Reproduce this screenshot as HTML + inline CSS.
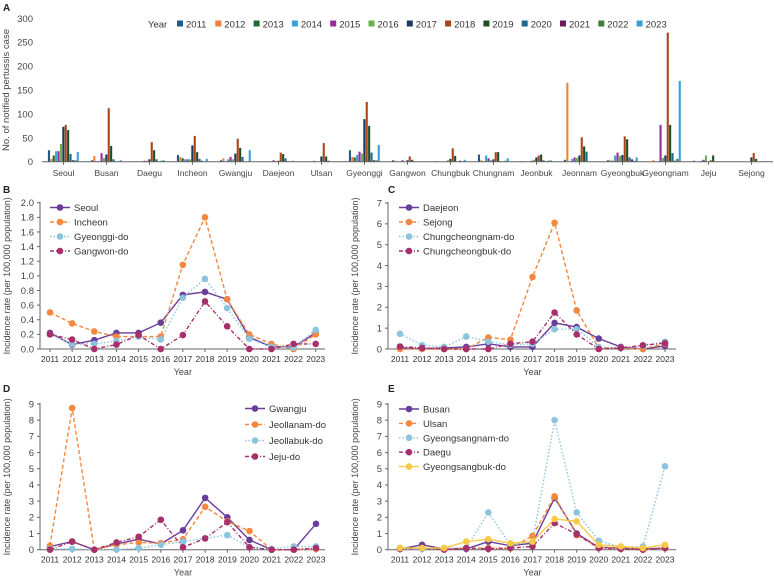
<!DOCTYPE html>
<html><head><meta charset="utf-8"><style>
html,body{margin:0;padding:0;background:#fff;}
svg{display:block;font-family:"Liberation Sans",sans-serif;}
</style></head><body>
<svg id="fig" width="774" height="579" viewBox="0 0 774 579" xmlns="http://www.w3.org/2000/svg"></svg>
<script>
const years=['2011','2012','2013','2014','2015','2016','2017','2018','2019','2020','2021','2022','2023'];
const yearColors=['#1d5c8a','#f07f3c','#1e6b34','#3aa0d8','#9b2b9b','#6ab04c','#1b3a5c','#a8461a','#1f4d2a','#1e6a8f','#6a1b5e','#3e7e3a','#3b9fd6'];
const regions=['Seoul','Busan','Daegu','Incheon','Gwangju','Daejeon','Ulsan','Gyeonggi','Gangwon','Chungbuk','Chungnam','Jeonbuk','Jeonnam','Gyeongbuk','Gyeongnam','Jeju','Sejong'];
const casesSeoul=[24,6,13,22,22,37,73,77,66,16,3,3,20];
const casesBusan=[3,12,1,1,18,8,15,112,33,5,0,0,3];
const casesDaegu=[0,0,0,0,2,2,5,41,24,5,0,2,3];
const casesIncheon=[14,10,7,5,5,5,34,54,20,6,2,0,6];
const casesGwangju=[3,7,0,5,10,5,17,48,29,10,0,0,24];
const casesDaejeon=[0,0,0,0,3,1,2,19,16,7,1,0,2];
const casesUlsan=[0,0,0,2,0,0,11,39,11,2,0,0,0];
const casesGyeonggi=[24,10,9,14,21,17,89,125,75,19,3,3,35];
const casesGangwon=[3,2,0,0,3,0,3,11,4,1,0,0,0];
const casesChungbuk=[1,0,0,0,0,3,6,28,12,0,2,1,4];
const casesChungnam=[15,3,0,13,7,3,5,20,20,1,0,2,7];
const casesJeonbuk=[1,0,0,0,2,4,9,13,15,3,1,2,3];
const casesJeonnam=[4,165,0,6,9,8,13,51,32,21,0,0,0];
const casesGyeongbuk=[3,3,2,13,19,12,14,53,47,9,5,2,9];
const casesGyeongnam=[0,3,0,0,77,8,13,270,77,18,2,6,169];
const casesJeju=[2,0,0,2,4,13,0,3,13,0,0,0,0];
const casesSejong=[0,0,0,0,0,0,9,18,6,0,0,0,1];
const casesAll=[casesSeoul,casesBusan,casesDaegu,casesIncheon,casesGwangju,casesDaejeon,casesUlsan,casesGyeonggi,casesGangwon,casesChungbuk,casesChungnam,casesJeonbuk,casesJeonnam,casesGyeongbuk,casesGyeongnam,casesJeju,casesSejong];
const ticksA=[0,50,100,150,200,250,300];

const bNames=['Seoul','Incheon','Gyeonggi-do','Gangwon-do'];
const bSeoul=[.22,.06,.12,.22,.22,.36,.74,.78,.68,.16,.03,.03,.22];
const bIncheon=[.50,.35,.24,.17,.17,.17,1.15,1.80,.68,.20,.07,0,.20];
const bGyeonggi=[.20,.07,.07,.11,.17,.13,.70,.96,.56,.14,.03,.02,.26];
const bGangwon=[.20,.13,0,.06,.19,0,.19,.65,.31,0,0,.07,.07];
const ticksB=[0,.2,.4,.6,.8,1.0,1.2,1.4,1.6,1.8,2.0];

const cNames=['Daejeon','Sejong','Chungcheongnam-do','Chungcheongbuk-do'];
const cDaejeon=[.05,.02,.05,.1,.25,.1,.1,1.25,1.05,.5,.1,0,.15];
const cSejong=[0,0,0,0,.55,.45,3.45,6.05,1.85,.05,.05,0,.25];
const cChungnam=[.73,.18,.1,.6,.35,.2,.25,.95,.95,.1,.05,.15,.35];
const cChungbuk=[.12,.05,0,0,0,.25,.35,1.75,.7,0,.05,.18,.28];
const ticksC=[0,1,2,3,4,5,6,7];

const dNames=['Gwangju','Jeollanam-do','Jeollabuk-do','Jeju-do'];
const dGwangju=[.2,.5,0,.35,.65,.35,1.2,3.2,2.0,.6,0,0,1.6];
const dJeollanam=[.25,8.75,0,.3,.45,.4,.65,2.65,1.75,1.15,0,0,.05];
const dJeollabuk=[.05,.05,0,0,.1,.3,.5,.7,.9,.15,.05,.2,.2];
const dJeju=[0,.5,0,.45,.8,1.85,.15,.7,1.7,.15,0,0,.1];
const ticksD=[0,1,2,3,4,5,6,7,8,9];

const eNames=['Busan','Ulsan','Gyeongsangnam-do','Daegu','Gyeongsangbuk-do'];
const eBusan=[.05,.3,.05,.05,.5,.25,.4,3.2,1.0,.15,.1,.05,.1];
const eUlsan=[.1,.1,.05,.1,.1,.1,.85,3.3,.9,.15,.1,0,.1];
const eGyeongnam=[.05,.05,.1,.1,2.3,.3,.5,8.0,2.3,.55,.15,.2,5.15];
const eDaegu=[.05,.1,0,.1,.05,.1,.2,1.65,.95,.1,.05,0,.1];
const eGyeongbuk=[.1,.1,.1,.5,.65,.4,.5,1.9,1.75,.3,.2,.1,.3];

const svg=document.getElementById('fig');
const NS='http://www.w3.org/2000/svg';
function mk(tag,attrs,parent,text){const e=document.createElementNS(NS,tag);for(const k in attrs)e.setAttribute(k,attrs[k]);if(text!==undefined)e.textContent=text;(parent||svg).appendChild(e);return e;}

[['A',3,11],['B',3,193],['C',388,193],['D',3,392],['E',388,392]].forEach(p=>{
  const t=mk('text',{x:p[1],y:p[2],'font-size':10,'font-weight':'bold',fill:'#222'},svg,p[0]);
  
  
});

(function(){
  const g=mk('g',{});
  
  
  const x0=42,x1=773,yb=161.7,yt=18.3,max=300;
  const y=v=>yb-(v/max)*(yb-yt);
  const cw=(x1-x0)/regions.length;
  ticksA.forEach(t=>{
    const l=mk('text',{x:33,y:y(t)+3.5,'font-size':9.5,'text-anchor':'end',fill:'#444'},g,String(t));
    
    
  });
  const yt2=mk('text',{transform:'translate(9,'+((yb+yt)/2)+') rotate(-90)','font-size':9.5,'text-anchor':'middle',fill:'#444'},g,'No. of notified pertussis case');
  
  
  const bw=2.4;
  regions.forEach((r,i)=>{
    const cx=x0+cw*(i+0.5);
    casesAll[i].forEach((v,j)=>{
      const bx=cx+(j-6.5)*bw;
      const b=mk('rect',{x:bx,y:y(v),width:bw-0.3,height:Math.max(0,yb-y(v)),fill:yearColors[j]},g);
      
      
    });
    mk('line',{x1:cx,x2:cx,y1:yb,y2:yb+3,stroke:'#666','stroke-width':1},g);
    const l=mk('text',{x:cx,y:176,'font-size':8.5,'text-anchor':'middle',fill:'#444'},g,r);
    
    
  });
  const ax=mk('line',{x1:x0,x2:x1,y1:yb,y2:yb,stroke:'#666','stroke-width':1},g);
  
  
  const lg=mk('g',{},g);
  
  
  mk('text',{x:148,y:27.5,'font-size':9.5,fill:'#333'},lg,'Year');
  years.forEach((yr,j)=>{
    const lx=177+j*38.3;
    const e=mk('g',{},lg);
    
    
    mk('rect',{x:lx,y:20.5,width:6,height:6,fill:yearColors[j]},e);
    mk('text',{x:lx+9,y:27.5,'font-size':9.5,fill:'#333'},e,yr);
  });
})();

const styles=[
  {c:'#6a3d9a',d:''},
  {c:'#f5873f',d:'4,2.5'},
  {c:'#8cc4de',d:'1.5,2'},
  {c:'#a8306a',d:'4,2,1,2'},
  {c:'#f7c948',d:''}
];
function linePanel(o){
  const g=mk('g',{});
  
  
  const {ax,x2011,x2023,y0,yTop,max,ticks,axEnd}=o;
  const X=i=>x2011+i*(x2023-x2011)/12;
  const Y=v=>y0-(v/max)*(y0-yTop);
  mk('line',{x1:ax,x2:ax,y1:yTop-1,y2:y0,stroke:'#666'},g);
  mk('line',{x1:ax,x2:axEnd,y1:y0,y2:y0,stroke:'#666'},g);
  ticks.forEach(t=>{
    mk('line',{x1:ax-3,x2:ax,y1:Y(t),y2:Y(t),stroke:'#666'},g);
    const l=mk('text',{x:ax-6,y:Y(t)+3.3,'font-size':9.5,'text-anchor':'end',fill:'#444'},g,o.fmt(t));
    
    
  });
  years.forEach((yr,i)=>{
    mk('line',{x1:X(i),x2:X(i),y1:y0,y2:y0+3,stroke:'#666'},g);
    const l=mk('text',{x:X(i),y:y0+13,'font-size':8.5,'text-anchor':'middle',fill:'#333'},g,yr);
    
    
  });
  const xt=mk('text',{x:(x2011+x2023)/2,y:y0+26,'font-size':9,'text-anchor':'middle',fill:'#444'},g,'Year');
  
  
  const yt=mk('text',{transform:'translate('+(ax-30)+','+((y0+yTop)/2)+') rotate(-90)','font-size':9,'text-anchor':'middle',fill:'#444'},g,'Incidence rate (per 100,000 population)');
  
  
  o.series.forEach((s,k)=>{
    const st=styles[o.styleIdx[k]];
    const sg=mk('g',{},g);
    
    
    const pts=s.map((v,i)=>X(i).toFixed(1)+','+Y(v).toFixed(1)).join(' ');
    mk('polyline',{points:pts,fill:'none',stroke:st.c,'stroke-width':1.4,'stroke-dasharray':st.d},sg);
    s.forEach((v,i)=>{
      const p=mk('circle',{cx:X(i),cy:Y(v),r:3.3,fill:st.c},sg);
      
      
    });
    const ly=o.legY+k*o.legStep;
    const le=mk('g',{},g);
    
    
    mk('line',{x1:o.legX,x2:o.legX+20,y1:ly,y2:ly,stroke:st.c,'stroke-width':1.4,'stroke-dasharray':st.d},le);
    mk('circle',{cx:o.legX+10,cy:ly,r:3.3,fill:st.c},le);
    mk('text',{x:o.legX+24,y:ly+3.5,'font-size':9.5,fill:'#333'},le,o.names[k]);
  });
}
linePanel({name:'panel-b-line-chart',ax:40,x2011:50,x2023:315.7,y0:349,yTop:202.7,max:2.0,ticks:ticksB,axEnd:325,fmt:t=>t.toFixed(1),
  series:[bSeoul,bIncheon,bGyeonggi,bGangwon],names:bNames,styleIdx:[0,1,2,3],legX:50,legY:207.5,legStep:14.5});
linePanel({name:'panel-c-line-chart',ax:388,x2011:400,x2023:665,y0:349,yTop:203,max:7,ticks:ticksC,axEnd:676,fmt:t=>String(t),
  series:[cDaejeon,cSejong,cChungnam,cChungbuk],names:cNames,styleIdx:[0,1,2,3],legX:399,legY:207.5,legStep:14.5});
linePanel({name:'panel-d-line-chart',ax:40,x2011:50,x2023:316,y0:549.7,yTop:404,max:9,ticks:ticksD,axEnd:325,fmt:t=>String(t),
  series:[dGwangju,dJeollanam,dJeollabuk,dJeju],names:dNames,styleIdx:[0,1,2,3],legX:245,legY:408.5,legStep:16});
linePanel({name:'panel-e-line-chart',ax:388,x2011:400,x2023:665,y0:549.7,yTop:404,max:9,ticks:ticksD,axEnd:676,fmt:t=>String(t),
  series:[eBusan,eUlsan,eGyeongnam,eDaegu,eGyeongbuk],names:eNames,styleIdx:[0,1,2,3,4],legX:399,legY:409,legStep:14.4});
</script>
</body></html>
